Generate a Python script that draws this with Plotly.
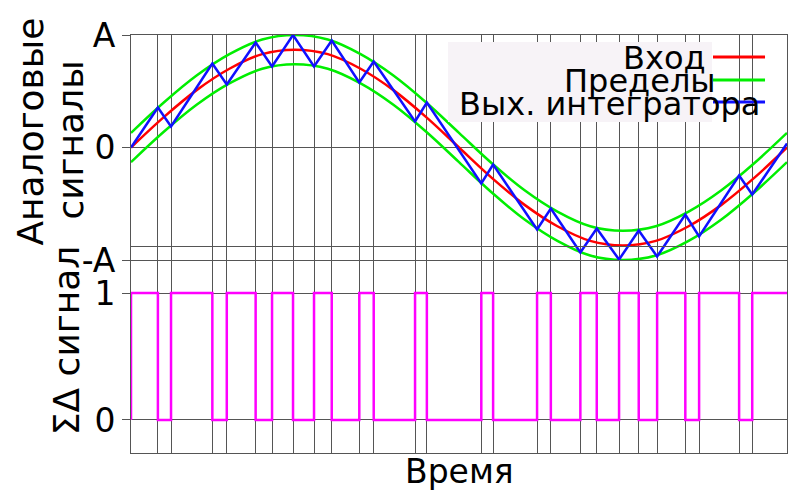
import plotly.graph_objects as go
from plotly.subplots import make_subplots

# instants where the integrator hits a limit (one input period = 1.0)
sample_t = [0.041, 0.061, 0.124, 0.146, 0.190, 0.215, 0.247, 0.279, 0.306, 0.348,
            0.370, 0.433, 0.451, 0.534, 0.552, 0.619, 0.640, 0.685, 0.710, 0.744,
            0.774, 0.802, 0.845, 0.866, 0.927, 0.947]

curve_t = [0.0, 0.05, 0.10, 0.15, 0.20, 0.25, 0.30, 0.35, 0.40, 0.45, 0.50,
           0.55, 0.60, 0.65, 0.70, 0.75, 0.80, 0.85, 0.90, 0.95, 1.0]
input_sig = [0.0, 0.27, 0.51, 0.70, 0.83, 0.87, 0.83, 0.70, 0.51, 0.27, 0.0,
             -0.27, -0.51, -0.70, -0.83, -0.87, -0.83, -0.70, -0.51, -0.27, 0.0]
upper_lim = [0.13, 0.40, 0.64, 0.83, 0.96, 1.00, 0.96, 0.83, 0.64, 0.40, 0.13,
             -0.14, -0.38, -0.57, -0.70, -0.74, -0.70, -0.57, -0.38, -0.14, 0.13]
lower_lim = [-0.13, 0.14, 0.38, 0.57, 0.70, 0.74, 0.70, 0.57, 0.38, 0.14, -0.13,
             -0.40, -0.64, -0.83, -0.96, -1.00, -0.96, -0.83, -0.64, -0.40, -0.13]

# integrator output at 0, each sample instant, and 1
integ_t = [0.0] + sample_t + [1.0]
integ_v = [0.0, 0.356, 0.187, 0.747, 0.560, 0.933, 0.720, 1.0, 0.720, 0.951, 0.578,
           0.764, 0.231, 0.400, -0.320, -0.151, -0.729, -0.542, -0.933, -0.720, -0.996,
           -0.738, -0.969, -0.596, -0.791, -0.249, -0.418, 0.036]

# bit stream, one value per interval between instants
bits = [1, 0, 1, 0, 1, 0, 1, 0, 1, 0, 1, 0, 1, 0, 1, 0, 1, 0, 1, 0, 1, 0, 1, 0, 1, 0, 1]

FONT = "DejaVu Sans"
GRID = "#555555"

fig = make_subplots(rows=2, cols=1, shared_xaxes=True, vertical_spacing=0)

fig.add_trace(go.Scatter(x=curve_t, y=upper_lim, mode="lines", line=dict(color="#00ee00", width=2.5, shape="spline")), row=1, col=1)
fig.add_trace(go.Scatter(x=curve_t, y=lower_lim, mode="lines", line=dict(color="#00ee00", width=2.5, shape="spline")), row=1, col=1)
fig.add_trace(go.Scatter(x=curve_t, y=input_sig, mode="lines", line=dict(color="#ff0000", width=2.5, shape="spline")), row=1, col=1)
fig.add_trace(go.Scatter(x=integ_t, y=integ_v, mode="lines", line=dict(color="#1010ff", width=2.5)), row=1, col=1)

step_x = [0.0, 0.0] + sample_t + [1.0]
step_y = [0] + bits + [bits[-1]]
fig.add_trace(go.Scatter(x=step_x, y=step_y, mode="lines", line=dict(color="#ff00ff", width=2.5, shape="hv")), row=2, col=1)

# page body adds an 8px offset, so the figure is 8px smaller on each side
fig.update_layout(
    width=792, height=492,
    margin=dict(l=123, r=13, t=27, b=47),
    paper_bgcolor="white", plot_bgcolor="white",
    showlegend=False,
    font=dict(family=FONT, color="black"),
)

# y layout: top panel A..-A, bottom panel 1..0
fig.update_yaxes(domain=[0.4617, 1.0], range=[-1, 1], tickvals=[-1, 0, 1], ticktext=["-A", "0", "A"], row=1, col=1)
fig.update_yaxes(domain=[0.0, 0.4593], range=[-0.26, 1.252], tickvals=[0, 1], ticktext=["0", "1"], row=2, col=1)
fig.update_yaxes(showgrid=True, gridcolor=GRID, gridwidth=1, zeroline=False, automargin=False,
                 ticks="outside", ticklen=8, tickcolor=GRID, tickfont=dict(size=33),
                 showline=True, linecolor=GRID, mirror=True)
fig.update_xaxes(range=[0, 1], tickvals=sample_t, showticklabels=False, ticks="", automargin=False,
                 showgrid=True, gridcolor=GRID, gridwidth=1, zeroline=False,
                 showline=True, linecolor=GRID, mirror=True)

# extra frame line inside the top panel
fig.add_shape(type="line", xref="x domain", yref="y", x0=0, x1=1, y0=-0.88, y1=-0.88,
              line=dict(color=GRID, width=1))

# legend drawn by hand: text on the left, sample line on the right
fig.add_shape(type="rect", xref="paper", yref="paper", x0=0.4832, x1=0.8857, y0=0.7919, y1=0.9833,
              fillcolor="#f7f3f7", line=dict(width=0), layer="above")
legend_items = [("Вход", "#ff0000", 0.9474, 0.8796, 0.945),
                ("Пределы", "#00ee00", 0.8923, 0.8948, 0.890),
                ("Вых. интегратора", "#1010ff", 0.8397, 0.9619, 0.835)]
for label, color, ly, tx, ty in legend_items:
    fig.add_annotation(text=label, xref="paper", yref="paper", x=tx, y=ty,
                       xanchor="right", yanchor="middle", showarrow=False,
                       font=dict(size=32, family=FONT))
    fig.add_shape(type="line", xref="paper", yref="paper", x0=0.8872, x1=0.9665, y0=ly, y1=ly,
                  line=dict(color=color, width=3), layer="above")

# axis titles
fig.add_annotation(text="Аналоговые", xref="paper", yref="paper",
                   x=-0.153, y=0.768, xanchor="center", yanchor="middle", textangle=-90,
                   showarrow=False, font=dict(size=36, family=FONT))
fig.add_annotation(text="сигналы", xref="paper", yref="paper",
                   x=-0.092, y=0.749, xanchor="center", yanchor="middle", textangle=-90,
                   showarrow=False, font=dict(size=36, family=FONT))
fig.add_annotation(text="ΣΔ сигнал", xref="paper", yref="paper",
                   x=-0.099, y=0.27, xanchor="center", yanchor="middle", textangle=-90,
                   showarrow=False, font=dict(size=36, family=FONT))
fig.add_annotation(text="Время", xref="paper", yref="paper",
                   x=0.5, y=-0.045, xanchor="center", yanchor="middle",
                   showarrow=False, font=dict(size=33, family=FONT))

fig.write_html("out.html")
